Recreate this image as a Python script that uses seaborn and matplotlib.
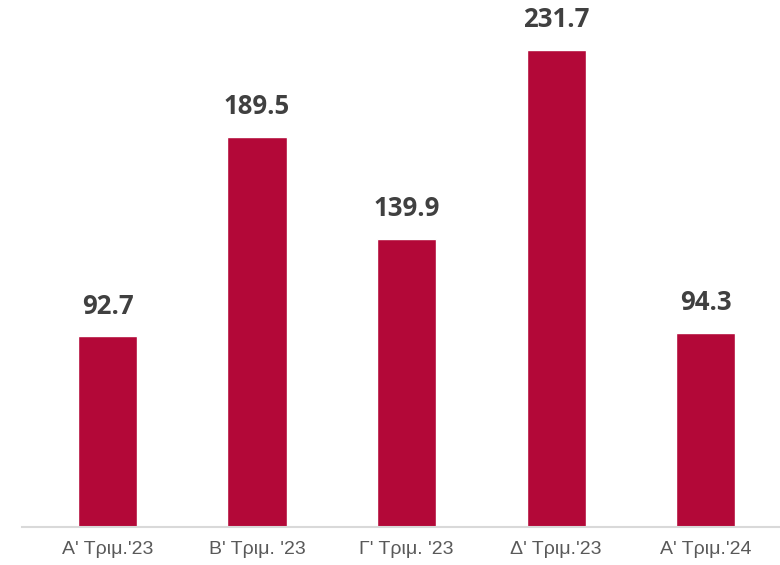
import matplotlib
matplotlib.use("Agg")
import matplotlib.pyplot as plt
import seaborn as sns
import pandas as pd
from matplotlib import font_manager

categories = ["Α' Τριμ.'23", "Β' Τριμ. '23", "Γ' Τριμ. '23", "Δ' Τριμ.'23", "Α' Τριμ.'24"]
values = [92.7, 189.5, 139.9, 231.7, 94.3]
value_labels = ["92.7", "189.5", "139.9", "231.7", "94.3"]

sns.set_theme(style="white")
names = {f.name for f in font_manager.fontManager.ttflist}
tick_family = ["Liberation Sans Narrow", "Liberation Sans"] if "Liberation Sans Narrow" in names else ["Liberation Sans"]
plt.rcParams['font.family'] = ['Liberation Sans', 'DejaVu Sans']

df = pd.DataFrame({"cat": categories, "val": values})

fig = plt.figure(figsize=(7.8, 5.65), dpi=100)
ax = fig.add_axes([22/780, 38/565, (780-22)/780, 527/565])
sns.barplot(data=df, x="cat", y="val", color="#B30838", saturation=1, width=0.395, ax=ax)

ax.set_xlim(-0.572, 4.498)
ax.set_ylim(0, 256.0)
for i, (v, lab) in enumerate(zip(values, value_labels)):
    ax.annotate(lab, (i, v), xytext=(0, 12), textcoords="offset points",
                ha="center", va="bottom", fontsize=18.5, fontweight="bold",
                color="#404040", family=["Open Sans", "DejaVu Sans"])

ax.set_xlabel("")
ax.set_ylabel("")
ax.set_yticks([])
for s in ["top", "right", "left"]:
    ax.spines[s].set_visible(False)
ax.spines["bottom"].set_color("#D9D9D9")
ax.spines["bottom"].set_linewidth(1.5)
ax.tick_params(axis="x", length=0, pad=10)
for t in ax.get_xticklabels():
    t.set_family(tick_family)
    t.set_fontsize(14)
    t.set_color("#595959")

fig.savefig("out.png", dpi=100)
